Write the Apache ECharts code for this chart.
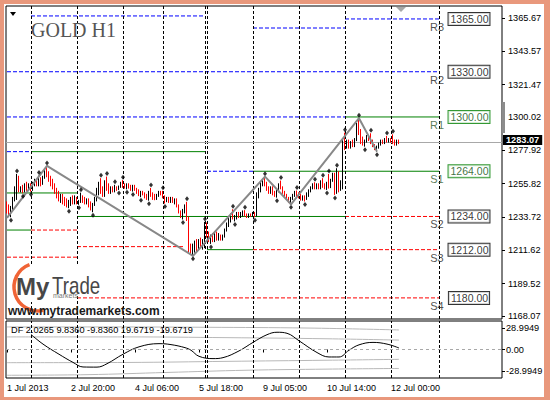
<!DOCTYPE html>
<html><head><meta charset="utf-8">
<script src="https://cdn.jsdelivr.net/npm/echarts@6/dist/echarts.min.js"></script>
<style>
html,body{margin:0;padding:0;background:#fff;}
#wrap{position:relative;width:550px;height:400px;overflow:hidden;background:#fff;}
#chart{position:absolute;left:0;top:0;width:550px;height:400px;}
#frame{position:absolute;left:0;top:0;width:550px;height:400px;box-sizing:border-box;border-style:solid;border-color:#e9987c;border-width:4px 6px 3px 4px;pointer-events:none;}
</style></head><body>
<div id="wrap"><div id="chart"></div><div id="frame"></div></div>
<script>
// ---------- data ----------
const SLOTS = 248;                       // hourly slots on the time axis
const dayStarts = [12,35,58,78,99,100,123,146,169,192,216];
const timeTickIdx = [0,32,64,96,128,160,192];
const timeTickText = ['1 Jul 2013','2 Jul 20:00','4 Jul 06:00','5 Jul 18:00','9 Jul 05:00','10 Jul 14:00','12 Jul 00:00'];
const priceTicks = [1168.07,1189.52,1211.62,1233.72,1255.82,1277.92,1300.02,1321.47,1343.57,1365.67];
const dfTicks = [-28.9949, 0, 28.9949];
const lastPrice = 1283.07;

// [open, close, low, high]
const candles = [
// Jul 1
[1243,1237,1236,1244],[1238,1236,1235,1242],[1236,1240,1233.5,1241],[1240,1246,1238,1247],
[1246,1253,1244,1254],[1252,1259,1245,1262.2],[1259,1251,1250,1261],[1250.5,1253,1250,1254],
[1253,1251,1249.4,1255],[1251,1254,1250,1256],[1254,1252,1251,1257],[1252,1255,1251,1256],
// Jul 2
[1255,1252,1250.5,1256],[1252,1256,1251,1257],[1256,1258,1254,1259],[1258,1255,1254,1259],
[1255,1259,1254,1261.1],[1259,1256,1254,1260],[1256,1260,1255,1261],[1260,1265,1259,1266],
[1265,1262,1260,1267.5],[1262,1258,1257,1264],[1258,1255,1254,1261],[1256,1253,1252,1259],
[1253,1250,1249,1256],[1250,1247,1246,1253],[1248,1245,1244,1251],[1245,1248,1243,1249],
[1248,1243,1242,1249],[1244,1242,1241,1247],[1243,1241,1240,1246],[1241,1243,1239.5,1245],
[1243,1246,1241,1247],[1246,1244,1242,1248],[1244,1246,1242,1248],
// Jul 3
[1246,1243,1242,1247],[1242.5,1244,1241.7,1245],[1244,1247,1243,1249.8],[1247,1244,1243,1248],
[1245,1243,1242,1247],[1243,1245,1242,1246],[1245,1242,1240,1246],[1242,1239,1238,1244],
[1239,1242,1236.8,1243],[1242,1246,1241,1247],[1246,1252,1244,1253],[1250,1256,1248,1257],
[1256,1250,1249,1259.4],[1251,1248,1247,1254],[1248,1257,1247,1258],[1257,1252,1251,1260.5],
[1253,1250,1249,1256],[1250,1253,1249,1254],[1253,1251,1250,1254],[1251,1253,1250,1255],
[1253,1252,1251,1254],[1252,1254,1251.6,1254.5],[1254,1256,1253,1257],
// Jul 4
[1256,1254,1253,1258.1],[1254,1253,1252.5,1256],[1253,1255,1252,1256],[1255,1253,1252.5,1256],
[1254,1252,1251,1255],[1252,1254,1250.5,1255],[1254,1252,1251,1255],[1252,1250,1249,1253],
[1251,1248,1247.5,1252],[1248,1250,1246.8,1251],[1250,1249,1248,1251],[1249,1247,1246,1250],
[1247,1246,1245,1249],[1246,1250,1244.5,1251],[1250,1248,1247,1252.9],[1248,1246,1245,1250],
[1247,1245,1244.8,1249],[1245,1248,1245,1249],[1248,1250,1247,1251],[1250,1249,1248,1251],
// Jul 5
[1249,1247,1246,1251],[1247,1244,1242.6,1248],[1244,1246,1243.5,1247],[1246,1244,1243,1247],
[1244,1246,1243,1247],[1246,1243,1243,1247],[1243,1245,1242,1246],[1245,1241,1240,1246],
[1241,1237,1236,1242],[1237,1234,1233,1238],[1234,1238,1232,1239],[1238,1241,1236,1242],
[1241,1233,1231,1243.7],[1233,1212,1210,1234],[1212,1211,1209,1216],[1211,1214,1207.9,1216],
[1214,1216,1210,1218],[1216,1213,1211,1219],[1213,1217,1212,1219],[1217,1214,1213,1220],
[1214,1217,1212,1219],
// Jul 7
[1217,1229,1213,1230.4],
// Jul 8
[1229,1222,1220,1230],[1222,1218,1217,1224],[1218,1221,1215.8,1222],[1221,1218,1217,1223],
[1218,1222,1217,1223],[1222,1219,1218,1224],[1219,1221,1218,1223],[1221,1219,1218,1222],
[1219,1221,1218,1222],[1221,1225,1220,1226],[1225,1229,1224,1230],[1229,1232,1227,1233],
[1232,1235,1230,1236],[1235,1233,1232,1238.8],[1233,1234,1230.7,1235],[1234,1236,1232,1237],
[1236,1234,1233,1237],[1234,1236,1233,1237],[1236,1237,1234,1238],[1237,1235,1234,1238.2],
[1235,1234,1233,1236],[1234,1235,1233,1236],[1235,1234,1233.8,1236],
// Jul 9
[1234,1236,1233.8,1237],[1236,1235,1233.5,1237],[1235,1248,1234,1250],[1248,1252,1246,1253],
[1252,1256,1250,1257],[1256,1258,1254,1259],[1258,1255,1254,1260.4],[1255,1252,1251,1257],
[1252,1250,1249,1254],[1250,1253,1249,1254],[1253,1249,1248,1254],[1249,1248,1247,1251],
[1248,1251,1246.5,1252],[1251,1255,1250,1256],[1255,1253,1252,1257.8],[1253,1250,1249,1254],
[1250,1248,1247,1251],[1248,1246,1245,1249],[1246,1244,1243,1247],[1244,1246,1242.1,1247],
[1246,1248,1245,1249],[1248,1250,1247,1251],[1250,1248,1247,1251.2],
// Jul 10
[1248,1247,1246,1250],[1247,1245,1244.5,1249],[1245,1247,1244.5,1248],[1247,1246,1243.9,1248],
[1246,1249,1245,1250],[1249,1251,1247,1252],[1251,1253,1250,1254],[1253,1255,1252,1256],
[1255,1253,1252,1256.7],[1253,1255,1252,1256],[1255,1253,1252,1256],[1253,1257,1252,1258],
[1257,1254,1253,1259.4],[1254,1253,1252,1256],[1253,1256,1251.6,1257],[1261,1253,1252.5,1262.2],
[1253,1258,1252.8,1259],[1258,1262,1257,1263],[1262,1250,1248.3,1263],[1250,1263,1249,1266],
[1263,1252,1250,1264],[1252,1256,1251,1258],[1255,1283,1252,1285],
// Jul 11
[1283,1280,1278,1289.6],[1280,1284,1279,1285],[1284,1280,1279,1285],[1280,1283,1279,1284],
[1283,1281,1280,1285],[1281,1285,1280,1286],[1285,1295,1284,1296],[1295,1290,1288,1299.2],
[1290,1283,1282,1292],[1283,1282,1281,1287],[1282,1284,1280.3,1285],[1284,1286,1283,1288],
[1286,1285,1284,1288],[1286,1283,1282,1289.2],[1283,1281,1280,1285],[1281,1279,1278,1282],
[1279,1280,1277,1281],[1280,1282,1279,1283],[1282,1284,1281,1285],[1284,1283,1282,1285],
[1283,1285,1282,1286],[1285,1284,1283,1287.4],[1284,1285,1283,1286],
// Jul 12
[1285,1284,1283,1286],[1284.5,1283,1282,1288.5],[1283,1282,1281,1285],[1282,1284,1281,1285],[1284,1283.07,1282,1285]
];

const fractalHigh = [[5,1262.2],[16,1261.1],[20,1267.5],[37,1249.8],[47,1259.4],[50,1260.5],[54,1255],[58,1258.1],
  [72,1252.9],[78,1251],[90,1243.7],[99,1230.4],[113,1238.8],[119,1238.2],[129,1260.4],[137,1257.8],[145,1251.2],
  [154,1256.7],[158,1259.4],[161,1262.2],[165,1266],[169,1289.6],[176,1299.2],[182,1289.2],[190,1287.4],[193,1288.5]];
const fractalLow = [[2,1233.5],[8,1249.4],[12,1250.5],[31,1239.5],[36,1241.7],[43,1236.8],[56,1251.6],[60,1252],
  [63,1250.5],[67,1246.8],[71,1244.5],[79,1242.6],[88,1232],[93,1207.9],[102,1215.8],[114,1230.7],[124,1233.5],
  [135,1246.5],[142,1242.1],[149,1243.9],[160,1251.6],[164,1248.3],[179,1280.3],[185,1277]];
const zigzag = [[0,1233],[20,1267.5],[93,1207.9],[129,1260.4],[142,1242.1],[176,1299.2],[185,1277]];

// pivot segments: [price, fromBar, toBar]
const pivotBlue  = [[1367,12,99],[1359,123,169],[1365,169,216],[1330,0,216],[1300,0,169],[1277,0,12],[1264,100,123]];
const pivotGreen = [[1300,169,216],[1277,12,99],[1264,123,216],[1249.6,0,35],[1234,35,169],[1225,0,12],[1212,100,123]];
const pivotRed   = [[1225,12,35],[1214,35,88],[1207,0,35],[1234,169,216],[1212,123,216],[1180,35,216]];
const levelNames  = ['R3','R2','R1','S1','S2','S3','S4'];
const levelValues = [1365,1330,1300,1264,1234,1212,1180];
const levelGreen  = [false,false,true,true,false,false,false];

// DF indicator
const dfLine = [[12,20.3],[18,7.3],[26,-6.4],[33,-17.4],[38,-23.6],[45,-23.8],[50,-19.2],[58,-6.4],[66,3.6],[76,7.9],
  [82,6.6],[89,2.5],[92,-1.0],[96,-9.2],[103,-12.3],[108,-11],[116,-1.9],[123,9.6],[130,20],[135,23.3],[140,21.9],
  [146,11.8],[155,-4.1],[161,-10.1],[166,-10.1],[171,-1],[176,6.3],[183,9.6],[190,7.3],[196,2.03]];
const dfUpper2 = [[0,30.5],[50,30.5],[100,30],[150,29],[196,26.4]];
const dfUpper1 = [[0,17],[60,17],[110,16],[160,14.5],[196,12.7]];
const dfLower1 = [[0,-17.8],[60,-17.5],[110,-16],[160,-14.5],[196,-13.3]];
const dfLower2 = [[0,-34.8],[40,-34],[80,-31],[120,-28],[160,-26.5],[196,-25.6]];
const dfText = 'DF 2.0265 9.8360 -9.8360 19.6719 -19.6719';

// ---------- chart ----------
const cats = Array.from({length: SLOTS}, (_, i) => String(i));
const FONT = 'Liberation Sans, Arial, sans-serif';
const sepLine = {silent:true, symbol:['none','none'], animation:false, label:{show:false},
  lineStyle:{color:'#000', type:[3,2], width:1}, data: dayStarts.map(i => ({xAxis: i}))};

const series = [];
function seg(arr, color, type) {
  arr.forEach(([p, a, b]) => series.push({type:'line', xAxisIndex:0, yAxisIndex:0, data:[[a,p],[b,p]],
    symbol:'none', silent:true, z:2, lineStyle:{color, width:1, type}}));
}
seg(pivotBlue, '#0000ff', [4,2]);
seg(pivotGreen, '#008000', 'solid');
seg(pivotRed, '#ff0000', [4,2]);
series[0].markLine = sepLine;

series.push({type:'candlestick', xAxisIndex:0, yAxisIndex:0, data:candles, barWidth:0.2, z:5,
  itemStyle:{color:'#000', color0:'#ff0000', borderColor:'#000', borderColor0:'#ff0000', borderWidth:1},
  markLine:{silent:true, symbol:['none','none'], animation:false,
    data:[{yAxis:lastPrice}],
    lineStyle:{color:'#a8a8a8', type:'solid', width:1},
    label:{show:true, position:'end', distance:1, offset:[0,-2.5], formatter: () => lastPrice.toFixed(2),
      backgroundColor:'#000', color:'#fff', fontSize:9.2, lineHeight:8, fontWeight:'bold', fontFamily:FONT, padding:[1,3,1,3]}}});

series.push({type:'line', xAxisIndex:0, yAxisIndex:0, data:zigzag, symbol:'none', z:6,
  lineStyle:{color:'#888888', width:2}});

series.push({type:'scatter', xAxisIndex:0, yAxisIndex:0, data:fractalHigh, symbol:'diamond', symbolSize:[4,5],
  symbolOffset:[0,-3], itemStyle:{color:'#000'}, z:8});
series.push({type:'scatter', xAxisIndex:0, yAxisIndex:0, data:fractalLow, symbol:'diamond', symbolSize:[4,5],
  symbolOffset:[0,3], itemStyle:{color:'#000'}, z:8});

// level value boxes
series.push({type:'scatter', xAxisIndex:0, yAxisIndex:0, symbolSize:0, z:9, silent:true,
  data: levelValues.map((v, k) => ({value:[231, v], label:{
    borderColor: levelGreen[k] ? '#008000' : '#000', color: levelGreen[k] ? '#0b4d0b' : '#000'}})),
  label:{show:true, position:'inside', formatter: p => p.value[1].toFixed(2), backgroundColor:'#fff',
    borderWidth:1, padding:[1,1,0,2], fontSize:10.5, fontFamily:FONT}});
// level names
series.push({type:'scatter', xAxisIndex:0, yAxisIndex:0, symbolSize:0, z:9, silent:true,
  data: levelValues.map((v, k) => ({value:[215, v], name: levelNames[k], label:{color: levelGreen[k] ? '#2f5a2f' : '#1e1e1e'}})),
  label:{show:true, position:'inside', offset:[0,8], formatter: p => p.name, fontSize:11, fontFamily:FONT}});

// indicator
series.push({type:'line', xAxisIndex:1, yAxisIndex:1, data:dfUpper2, smooth:0.4, symbol:'none', lineStyle:{color:'#b8b8b8', width:1}, z:2,
  markLine:Object.assign({}, sepLine, {data: dayStarts.map(i => ({xAxis:i})).concat([{yAxis:0, lineStyle:{color:'#a8a8a8', type:[3,3]}}])})});
series.push({type:'line', xAxisIndex:1, yAxisIndex:1, data:dfUpper1, smooth:0.4, symbol:'none', lineStyle:{color:'#b8b8b8', width:1}, z:2});
series.push({type:'line', xAxisIndex:1, yAxisIndex:1, data:dfLower1, smooth:0.4, symbol:'none', lineStyle:{color:'#b8b8b8', width:1}, z:2});
series.push({type:'line', xAxisIndex:1, yAxisIndex:1, data:dfLower2, smooth:0.4, symbol:'none', lineStyle:{color:'#b8b8b8', width:1}, z:2});
series.push({type:'line', xAxisIndex:1, yAxisIndex:1, data:dfLine, smooth:0.4, symbol:'none', lineStyle:{color:'#000', width:1}, z:4});

const option = {
  animation:false,
  backgroundColor:'#fff',
  title:{text:'GOLD H1', left:26, top:15, textStyle:{fontFamily:'Liberation Serif, Times New Roman, serif', fontSize:20, fontWeight:'normal', color:'#555'}},
  grid:[
    {left:6, top:6, width:496, height:313, show:true, borderColor:'#000', borderWidth:1, backgroundColor:'transparent', outerBoundsMode:'none'},
    {left:6, top:321, width:496, height:57, show:true, borderColor:'#000', borderWidth:1, backgroundColor:'transparent', outerBoundsMode:'none'}
  ],
  xAxis:[
    {type:'category', gridIndex:0, data:cats, boundaryGap:true, axisLine:{show:false}, axisTick:{show:false}, axisLabel:{show:false}, splitLine:{show:false}},
    {type:'category', gridIndex:1, data:cats, boundaryGap:true, axisLine:{show:false},
      axisTick:{show:true, alignWithLabel:true, length:3, interval:(i) => timeTickIdx.includes(i), lineStyle:{color:'#000'}},
      axisLabel:{show:true, interval:(i) => timeTickIdx.includes(i), formatter:(v, i) => timeTickText[timeTickIdx.indexOf(i)] || '',
        align:'left', margin:5, fontSize:9, fontFamily:FONT, color:'#000'}, splitLine:{show:false}}
  ],
  yAxis:[
    {type:'value', gridIndex:0, position:'right', min:1166.0, max:1373.6, scale:true, splitLine:{show:false}, axisLine:{show:false},
      axisTick:{show:true, length:3, customValues:priceTicks, lineStyle:{color:'#000'}},
      axisLabel:{show:true, customValues:priceTicks, formatter:v => v.toFixed(2), margin:6, fontSize:9.2, lineHeight:8, fontFamily:FONT, color:'#000'}},
    {type:'value', gridIndex:1, position:'right', min:-38.5, max:38.5, splitLine:{show:false}, axisLine:{show:false},
      axisTick:{show:true, length:3, customValues:dfTicks, lineStyle:{color:'#000'}},
      axisLabel:{show:true, customValues:dfTicks, formatter:v => v === 0 ? '0.00' : v.toFixed(4), margin:4, fontSize:9.2, fontFamily:FONT, color:'#000'}}
  ],
  graphic:[
    {type:'polygon', z:100, shape:{points:[[10,12],[16,12],[13,16]]}, style:{fill:'#000'}},
    {type:'polygon', z:100, shape:{points:[[396,7],[406,7],[401,12]]}, style:{fill:'#a8a8a8'}},
    {type:'rect', z:100, shape:{x:502, y:102, width:3, height:31}, style:{fill:'#8c8c8c'}},
    {type:'rect', z:100, shape:{x:7, y:264, width:96, height:30}, style:{fill:'#fff'}},
    {type:'rect', z:100, shape:{x:7, y:294, width:70, height:8}, style:{fill:'#fff'}},
    {type:'arc', z:101, shape:{cx:38, cy:287, r:24, startAngle:1.35, endAngle:4.35}, style:{stroke:'#f06436', lineWidth:3.5, fill:null}},
    {type:'text', z:102, x:16, y:274, style:{text:'My', fill:'#474747', font:'bold 24px Liberation Sans, Arial, sans-serif'}},
    {type:'text', z:102, x:52, y:274, scaleX:0.78, style:{text:'Trade', fill:'#474747', font:'24px Liberation Sans, Arial, sans-serif'}},
    {type:'text', z:102, x:53, y:292, style:{text:'markets', fill:'#7a7a7a', font:'7px Liberation Sans, Arial, sans-serif'}},
    {type:'text', z:102, x:8, y:305, style:{text:'www.mytrademarkets.com', fill:'#1a1a1a', font:'bold 12px Liberation Sans, Arial, sans-serif'}},
    {type:'text', z:102, x:11, y:325, style:{text:dfText, fill:'#000', font:'9.2px Liberation Sans, Arial, sans-serif'}}
  ],
  series
};

const chart = echarts.init(document.getElementById('chart'), null, {renderer:'svg', width:550, height:400});
chart.setOption(option);
</script>
</body></html>
